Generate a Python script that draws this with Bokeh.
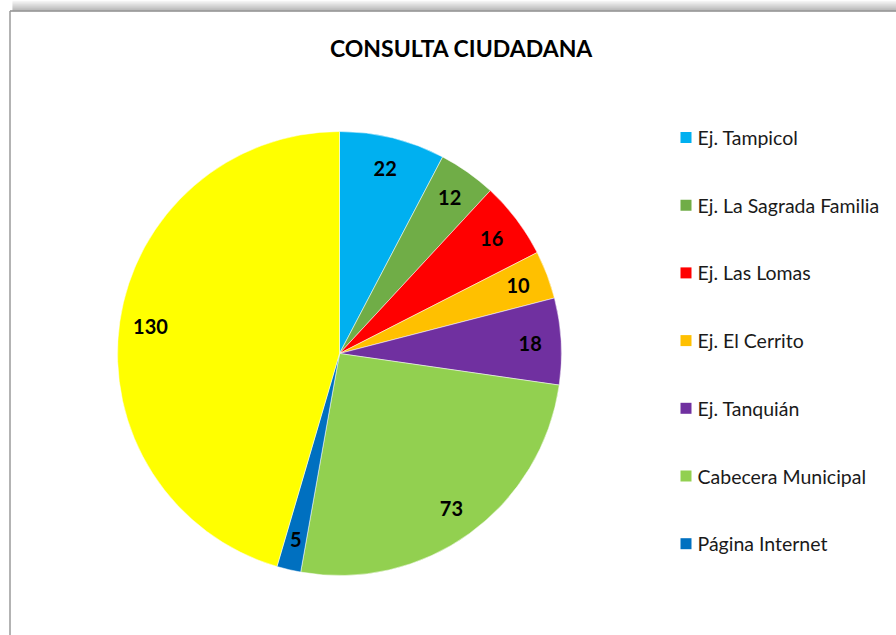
import math
from bokeh.plotting import figure
from bokeh.models import Range1d, ColumnDataSource
from bokeh.core.properties import value
from bokeh.embed import file_html
from bokeh.resources import INLINE

title = "CONSULTA CIUDADANA"
categories = ["Ej. Tampicol", "Ej. La Sagrada Familia", "Ej. Las Lomas", "Ej. El Cerrito",
              "Ej. Tanquián", "Cabecera Municipal", "Página Internet", "Otros"]
values = [22, 12, 16, 10, 18, 73, 5, 130]
colors = ["#00B0F0", "#70AD47", "#FF0000", "#FFC000", "#7030A0", "#92D050", "#0070C0", "#FFFF00"]
legend_count = 7  # only 7 entries visible in the legend

W, H = 896, 635
cx, cy_px, R = 339, 353, 222
cy = H - cy_px

total = sum(values)
starts, ends, lx, ly = [], [], [], []
cum = 0
for v in values:
    a0 = math.pi / 2 - 2 * math.pi * cum / total
    a1 = math.pi / 2 - 2 * math.pi * (cum + v) / total
    starts.append(a0)
    ends.append(a1)
    mid = (a0 + a1) / 2
    lx.append(cx + 0.86 * R * math.cos(mid))
    ly.append(cy + 0.86 * R * math.sin(mid))
    cum += v

src = ColumnDataSource(dict(start=starts, end=ends, color=colors,
                            lx=lx, ly=ly, lab=[str(v) for v in values]))

p = figure(width=W, height=H, x_range=Range1d(0, W), y_range=Range1d(0, H),
           output_backend="svg", toolbar_location=None, min_border=0)
p.axis.visible = False
p.grid.visible = False
p.outline_line_color = None
p.background_fill_color = "white"
p.border_fill_color = "white"

# chart frame with shadow
for i in range(10):
    g = int(245 - i * 9)
    p.segment(x0=[12], y0=[H - i - 0.5], x1=[W], y1=[H - i - 0.5],
              line_color=f"#{g:02x}{g:02x}{g:02x}", line_width=1)
p.segment(x0=[9.5], y0=[H - 10.5], x1=[W], y1=[H - 10.5], line_color="#8c8c8c", line_width=1.5)
p.segment(x0=[9.5], y0=[0], x1=[9.5], y1=[H - 10.5], line_color="#9a9a9a", line_width=1.5)

p.wedge(x=cx, y=cy, radius=R, start_angle="start", end_angle="end", direction="clock",
        fill_color="color", line_color="white", line_width=0.5, source=src)

p.text(x="lx", y="ly", text="lab", source=src, text_align="center", text_baseline="middle",
       text_font=value("Lato"), text_font_size="20px", text_font_style="bold", text_color="black")

p.text(x=[461], y=[H - 47], text=[title], text_align="center", text_baseline="middle",
       text_font=value("Lato"), text_font_size="23px", text_font_style="bold", text_color="black")

# legend
leg_y = [H - (137 + i * 67.7) for i in range(legend_count)]
p.rect(x=[685.5] * legend_count, y=leg_y, width=11, height=11,
       fill_color=colors[:legend_count], line_color=None)
p.text(x=[697] * legend_count, y=leg_y, text=categories[:legend_count], text_align="left",
       text_baseline="middle", text_font=value("Lato"), text_font_size="19.5px", text_color="#1a1a1a")

open("out.html", "w").write(file_html(p, INLINE))
